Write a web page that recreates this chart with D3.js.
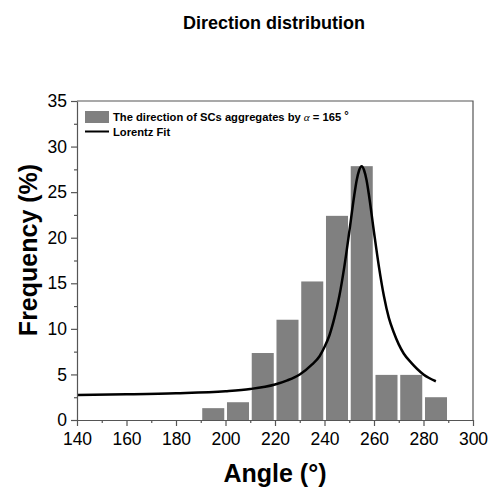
<!DOCTYPE html>
<html>
<head>
<meta charset="utf-8">
<script src="https://cdn.jsdelivr.net/npm/d3@7"></script>
<style>
  body { margin: 0; background: #fff; }
  svg { font-family: "Liberation Sans", Arial, sans-serif; }
</style>
</head>
<body>
<div id="chart-area"></div>
<script>
// histogram bins (start of each 10 degree bin) and frequency (%)
var binStarts = [190, 200, 210, 220, 230, 240, 250, 260, 270, 280];
var freqs = [1.3, 1.95, 7.35, 11.0, 15.2, 22.4, 27.85, 4.95, 4.95, 2.5];

// Lorentz fit curve
var fitAngles = [140, 160, 180, 200, 210, 220, 225, 230, 235, 238, 240, 242, 244, 246, 248, 250, 252, 253, 254, 255,
                 256, 257, 258, 260, 262, 264, 266, 268, 270, 272, 275, 280, 285];
var fitFreqs = [2.75, 2.82, 2.93, 3.15, 3.4, 3.9, 4.35, 5.0, 6.1, 7.0, 8.0, 9.3, 11.2, 13.6, 16.8, 20.6, 24.6, 26.3, 27.4, 27.85,
                27.4, 26.3, 24.6, 20.6, 16.8, 13.6, 11.2, 9.6, 8.3, 7.3, 6.3, 5.0, 4.25];

var xTicks = [140, 160, 180, 200, 220, 240, 260, 280, 300];
var yTicks = [0, 5, 10, 15, 20, 25, 30, 35];

var margin = { left: 77, right: 21, top: 101, bottom: 73 };
var width = 494 - margin.left - margin.right;
var height = 493 - margin.top - margin.bottom;

var svg = d3.select("#chart-area").append("svg")
  .attr("width", 494)
  .attr("height", 493);

var g = svg.append("g")
  .attr("transform", "translate(" + margin.left + "," + margin.top + ")");

// Title
svg.append("text")
  .attr("x", 274)
  .attr("y", 29)
  .attr("font-size", "18px")
  .attr("font-weight", "bold")
  .attr("text-anchor", "middle")
  .text("Direction distribution");

var x = d3.scaleLinear().domain([140, 300]).range([0, width]);
var y = d3.scaleLinear().domain([0, 35]).range([height, 0]);

// Bars
g.selectAll("rect.bar")
  .data(binStarts)
  .enter()
  .append("rect")
  .attr("class", "bar")
  .attr("x", function(d) { return x(d + 0.6); })
  .attr("width", function(d) { return x(d + 9.5) - x(d + 0.6); })
  .attr("y", function(d, i) { return y(freqs[i]); })
  .attr("height", function(d, i) { return height - y(freqs[i]); })
  .attr("fill", "#808080");

// Lorentz fit line
var line = d3.line()
  .x(function(d, i) { return x(fitAngles[i]); })
  .y(function(d) { return y(d); })
  .curve(d3.curveMonotoneX);

g.append("path")
  .datum(fitFreqs)
  .attr("d", line)
  .attr("fill", "none")
  .attr("stroke", "#000")
  .attr("stroke-width", 2.5);

// Frame (top + right)
g.append("path")
  .attr("d", "M0,0H" + width + "V" + height)
  .attr("fill", "none")
  .attr("stroke", "#555")
  .attr("stroke-width", 1.2);

// X Axis
var xMinor = d3.range(150, 300, 20);
g.append("g")
  .attr("transform", "translate(0," + height + ")")
  .call(d3.axisBottom(x).tickValues(xMinor).tickSize(3).tickFormat(""))
  .call(function(a) { a.select(".domain").remove(); });

var xAxis = g.append("g")
  .attr("transform", "translate(0," + height + ")")
  .call(d3.axisBottom(x).tickValues(xTicks).tickSize(6).tickSizeOuter(0).tickPadding(7));
xAxis.selectAll("text").attr("font-size", "17.5px").attr("fill", "#000");

// Y Axis
var yMinor = d3.range(2.5, 35, 5);
g.append("g")
  .call(d3.axisLeft(y).tickValues(yMinor).tickSize(3).tickFormat(""))
  .call(function(a) { a.select(".domain").remove(); });

var yAxis = g.append("g")
  .call(d3.axisLeft(y).tickValues(yTicks).tickSize(6).tickSizeOuter(0).tickPadding(4));
yAxis.selectAll("text").attr("font-size", "17.5px").attr("fill", "#000");

svg.selectAll(".domain, .tick line").attr("stroke", "#555").attr("stroke-width", 1.2);

// X Label
svg.append("text")
  .attr("x", 275)
  .attr("y", 482)
  .attr("font-size", "25px")
  .attr("font-weight", "bold")
  .attr("text-anchor", "middle")
  .text("Angle (°)");

// Y Label
svg.append("text")
  .attr("transform", "translate(37," + 250 + ") rotate(-90)")
  .attr("font-size", "25px")
  .attr("font-weight", "bold")
  .attr("text-anchor", "middle")
  .text("Frequency (%)");

// Legend
var legend = svg.append("g");
legend.append("rect")
  .attr("x", 85).attr("y", 111)
  .attr("width", 24).attr("height", 12)
  .attr("fill", "#808080");
legend.append("line")
  .attr("x1", 85).attr("x2", 109)
  .attr("y1", 131.5).attr("y2", 131.5)
  .attr("stroke", "#000").attr("stroke-width", 2);

var t1 = legend.append("text")
  .attr("x", 113).attr("y", 121)
  .attr("font-size", "11.2px")
  .attr("font-weight", "bold");
t1.append("tspan").text("The direction of SCs aggregates by ");
t1.append("tspan")
  .attr("font-family", "'Liberation Serif', serif")
  .attr("font-style", "italic")
  .attr("font-weight", "normal")
  .text("α");
t1.append("tspan").text(" = 165 ");
t1.append("tspan").attr("dy", -2).text("°");

legend.append("text")
  .attr("x", 113).attr("y", 135.5)
  .attr("font-size", "11.2px")
  .attr("font-weight", "bold")
  .text("Lorentz Fit");
</script>
</body>
</html>
